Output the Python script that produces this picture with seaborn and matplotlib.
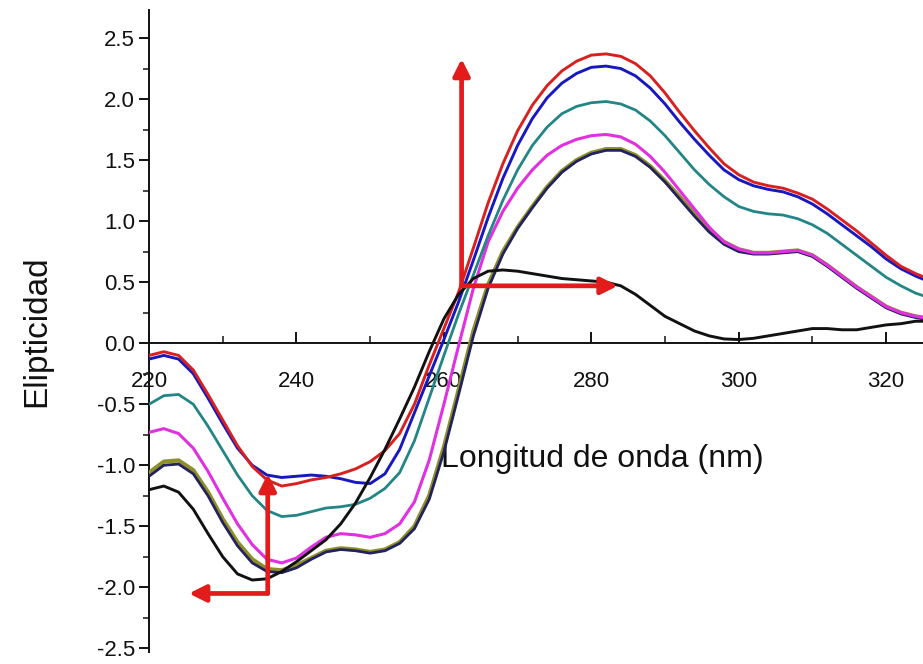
import pandas as pd
import matplotlib
matplotlib.use("Agg")
import matplotlib.pyplot as plt
import seaborn as sns
from matplotlib.ticker import MultipleLocator, FormatStrFormatter

# wavelength grid (nm)
nm = list(range(220, 328, 2))

red = [-0.10, -0.07, -0.10, -0.22, -0.42, -0.63, -0.84, -1.01, -1.12, -1.17,
       -1.15, -1.12, -1.10, -1.07, -1.03, -0.97, -0.88, -0.74, -0.50, -0.18,
       0.12, 0.42, 0.78, 1.15, 1.47, 1.74, 1.95, 2.11, 2.23, 2.31,
       2.36, 2.37, 2.35, 2.29, 2.19, 2.05, 1.89, 1.74, 1.60, 1.47,
       1.38, 1.32, 1.29, 1.27, 1.23, 1.18, 1.10, 1.01, 0.92, 0.82,
       0.72, 0.63, 0.57, 0.52]
blue = [-0.13, -0.10, -0.13, -0.25, -0.45, -0.66, -0.86, -1.00, -1.08, -1.10,
        -1.09, -1.08, -1.09, -1.11, -1.14, -1.15, -1.07, -0.87, -0.57, -0.27,
        0.03, 0.34, 0.68, 1.03, 1.35, 1.62, 1.84, 2.01, 2.13, 2.21,
        2.26, 2.27, 2.25, 2.19, 2.09, 1.96, 1.81, 1.67, 1.54, 1.42,
        1.34, 1.29, 1.26, 1.24, 1.20, 1.14, 1.06, 0.97, 0.88, 0.79,
        0.69, 0.61, 0.55, 0.50]
teal = [-0.50, -0.43, -0.42, -0.50, -0.68, -0.88, -1.08, -1.25, -1.37, -1.42,
        -1.41, -1.38, -1.35, -1.34, -1.32, -1.27, -1.19, -1.06, -0.80, -0.45,
        -0.10, 0.24, 0.56, 0.88, 1.17, 1.42, 1.62, 1.77, 1.88, 1.94,
        1.97, 1.98, 1.96, 1.91, 1.82, 1.70, 1.56, 1.42, 1.30, 1.20,
        1.12, 1.08, 1.06, 1.05, 1.02, 0.97, 0.90, 0.81, 0.72, 0.63,
        0.54, 0.47, 0.41, 0.37]
magenta = [-0.73, -0.70, -0.74, -0.86, -1.05, -1.27, -1.48, -1.65, -1.77, -1.80,
           -1.76, -1.67, -1.59, -1.56, -1.57, -1.59, -1.56, -1.48, -1.30, -0.96,
           -0.50, -0.02, 0.45, 0.83, 1.08, 1.27, 1.42, 1.54, 1.62, 1.67,
           1.70, 1.71, 1.69, 1.63, 1.53, 1.40, 1.25, 1.10, 0.95, 0.83,
           0.77, 0.74, 0.74, 0.75, 0.76, 0.72, 0.64, 0.55, 0.46, 0.38,
           0.30, 0.25, 0.22, 0.20]
olive = [-1.06, -0.97, -0.96, -1.04, -1.22, -1.44, -1.63, -1.77, -1.85, -1.86,
         -1.82, -1.76, -1.70, -1.68, -1.69, -1.71, -1.69, -1.63, -1.50, -1.25,
         -0.85, -0.38, 0.10, 0.48, 0.75, 0.95, 1.12, 1.28, 1.41, 1.50,
         1.56, 1.59, 1.59, 1.54, 1.45, 1.33, 1.20, 1.06, 0.93, 0.83,
         0.77, 0.74, 0.74, 0.75, 0.76, 0.72, 0.64, 0.55, 0.46, 0.38,
         0.30, 0.25, 0.22, 0.20]
navy = [-1.09, -1.00, -0.99, -1.07, -1.25, -1.47, -1.66, -1.80, -1.87, -1.88,
        -1.84, -1.77, -1.71, -1.69, -1.70, -1.72, -1.70, -1.64, -1.52, -1.28,
        -0.89, -0.42, 0.06, 0.45, 0.73, 0.94, 1.11, 1.27, 1.40, 1.49,
        1.55, 1.58, 1.58, 1.53, 1.44, 1.32, 1.18, 1.04, 0.91, 0.81,
        0.75, 0.73, 0.73, 0.74, 0.75, 0.71, 0.63, 0.54, 0.45, 0.37,
        0.29, 0.24, 0.21, 0.19]
black = [-1.20, -1.17, -1.22, -1.36, -1.56, -1.75, -1.89, -1.94, -1.93, -1.87,
         -1.79, -1.70, -1.61, -1.48, -1.31, -1.10, -0.87, -0.62, -0.36, -0.07,
         0.20, 0.40, 0.53, 0.59, 0.60, 0.59, 0.57, 0.55, 0.53, 0.52,
         0.51, 0.50, 0.47, 0.40, 0.31, 0.22, 0.16, 0.10, 0.06, 0.035,
         0.03, 0.04, 0.06, 0.08, 0.10, 0.12, 0.12, 0.11, 0.11, 0.13,
         0.15, 0.16, 0.18, 0.18]

# drawing order: first drawn ends up underneath
series = [
    ("olive", olive, "#8f8f2a", 3.0),
    ("navy", navy, "#22225e", 2.0),
    ("magenta", magenta, "#e030e0", 2.2),
    ("teal", teal, "#238585", 2.0),
    ("blue", blue, "#1818c0", 2.1),
    ("red", red, "#d82020", 2.1),
    ("black", black, "#111111", 2.1),
]

# red arrows (tail -> tip), data coordinates
arrows = [
    ((262.4, 0.47), (262.4, 2.33)),
    ((262.4, 0.47), (283.6, 0.47)),
    ((236.1, -2.05), (236.1, -1.07)),
    ((236.1, -2.05), (225.4, -2.05)),
]

sns.set_style("ticks")
plt.rcParams["font.family"] = ["Liberation Sans", "DejaVu Sans"]

fig = plt.figure(figsize=(9.23, 6.64), dpi=100)
ax = fig.add_axes([0.1615, 0.018, 0.8385, 0.967])

for name, vals, col, lw in series:
    df = pd.DataFrame({"nm": nm, "val": vals})
    sns.lineplot(data=df, x="nm", y="val", color=col, lw=lw, ax=ax,
                 zorder=3, sort=False, solid_joinstyle="round")

for tail, tip in arrows:
    ax.annotate("", xy=tip, xytext=tail,
                arrowprops=dict(arrowstyle="-|>", color="#e21b1b", lw=3.4,
                                mutation_scale=25, shrinkA=0, shrinkB=0),
                zorder=4)

ax.set_xlim(220, 325)
ax.set_ylim(-2.53, 2.73)

ax.spines["top"].set_visible(False)
ax.spines["right"].set_visible(False)
ax.spines["bottom"].set_position(("data", 0))
for s in ("left", "bottom"):
    ax.spines[s].set_linewidth(1.4)
    ax.spines[s].set_color("#111111")

ax.xaxis.set_major_locator(MultipleLocator(20))
ax.xaxis.set_minor_locator(MultipleLocator(10))
ax.yaxis.set_major_locator(MultipleLocator(0.5))
ax.yaxis.set_minor_locator(MultipleLocator(0.25))
ax.yaxis.set_major_formatter(FormatStrFormatter("%.1f"))

ax.tick_params(axis="x", which="major", direction="in", length=8, width=1.4,
               pad=20, labelsize=16, colors="#111111")
ax.tick_params(axis="x", which="minor", direction="in", length=5, width=1.2)
ax.tick_params(axis="y", which="major", direction="out", length=7, width=1.4,
               pad=3, labelsize=16, colors="#111111")
ax.tick_params(axis="y", which="minor", direction="out", length=4, width=1.2)

ax.set_xlabel("Longitud de onda (nm)", fontsize=23, color="#111111")
ax.xaxis.label.set_va("center")
ax.xaxis.set_label_coords(0.585, 0.30)
ax.set_ylabel("Elipticidad", fontsize=24, color="#111111", labelpad=32)

fig.savefig("out.png", dpi=100)
